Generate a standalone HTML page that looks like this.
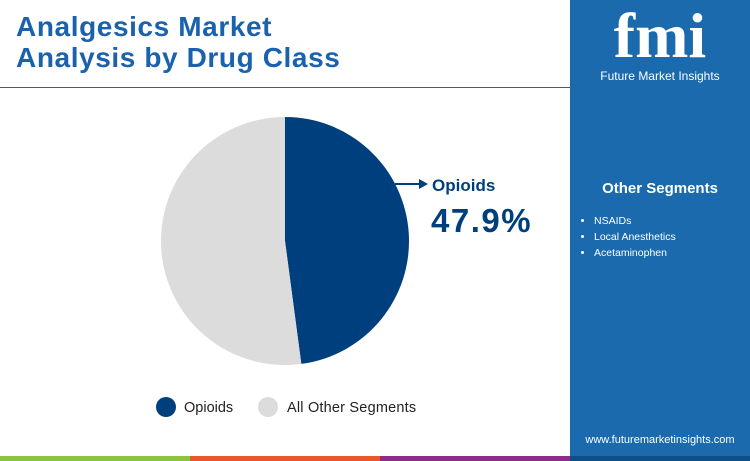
<!DOCTYPE html>
<html><head><meta charset="utf-8"><style>
body{margin:0;width:750px;height:461px;overflow:hidden;background:#fff;font-family:"Liberation Sans",sans-serif;position:relative}
.abs{position:absolute}
</style></head><body>
<div class="abs" style="left:16px;top:11px;font-size:28px;letter-spacing:0.6px;font-weight:bold;color:#1a62ad;line-height:31px">Analgesics Market<br>Analysis by Drug Class</div>
<div class="abs" style="left:0;top:87px;width:570px;height:1px;background:#1a66b0"></div>
<div class="abs" style="left:570px;top:0;width:180px;height:456px;background:#1a6aad"></div>
<div class="abs" style="left:570px;top:4px;width:180px;text-align:center;color:#fff;font-size:64px;font-weight:bold;font-family:'Liberation Serif',serif;line-height:64px">fmi</div>
<div class="abs" style="left:570px;top:69px;width:180px;text-align:center;color:#fff;font-size:12px">Future Market Insights</div>
<div class="abs" style="left:570px;top:180px;width:180px;text-align:center;color:#fff;font-size:15px;font-weight:bold">Other Segments</div>
<ul class="abs" style="left:580px;top:213px;margin:0;padding:0 0 0 14px;color:#fff;font-size:10.5px;line-height:16px">
<li>NSAIDs</li>
<li>Local Anesthetics</li>
<li>Acetaminophen</li></ul>
<div class="abs" style="left:570px;top:434px;width:180px;text-align:center;color:#fff;font-size:11px">www.futuremarketinsights.com</div>
<div class="abs" style="left:0;top:456px;width:190px;height:5px;background:#8cc43f"></div>
<div class="abs" style="left:190px;top:456px;width:190px;height:5px;background:#e8582a"></div>
<div class="abs" style="left:380px;top:456px;width:190px;height:5px;background:#8e2c8a"></div>
<div class="abs" style="left:570px;top:456px;width:180px;height:5px;background:#0f4f88"></div>
<svg class="abs" style="left:0;top:0" width="570" height="456">
<g id="pie"></g>
<line x1="395" y1="184" x2="420" y2="184" stroke="#003f7d" stroke-width="2"/>
<polygon points="419,179 428,184 419,189" fill="#003f7d"/>
<text x="432" y="191" font-size="17" font-weight="bold" fill="#003f7d">Opioids</text>
<text id="pct" x="431" y="232" font-size="33" font-weight="bold" letter-spacing="1.5" fill="#003f7d"></text>
<circle cx="166" cy="407" r="10" fill="#003f7d"/>
<text x="184" y="412" font-size="14.5" fill="#222">Opioids</text>
<circle cx="268" cy="407" r="10" fill="#dcdcdc"/>
<text x="287" y="412" font-size="14.5" letter-spacing="0.2" fill="#222">All Other Segments</text>
</svg>
<script>
const categories=["Opioids","All Other Segments"];
const values=[47.9,52.1];
const colors=["#003f7d","#dcdcdc"];
const cx=285,cy=241,r=124;
const g=document.getElementById('pie');
const total=values.reduce((a,b)=>a+b,0);
let a0=-Math.PI/2;
values.forEach((v,i)=>{
  const a1=a0+v/total*2*Math.PI;
  const large=(a1-a0)>Math.PI?1:0;
  const p=document.createElementNS('http://www.w3.org/2000/svg','path');
  p.setAttribute('d',`M${cx},${cy} L${cx+r*Math.cos(a0)},${cy+r*Math.sin(a0)} A${r},${r} 0 ${large} 1 ${cx+r*Math.cos(a1)},${cy+r*Math.sin(a1)} Z`);
  p.setAttribute('fill',colors[i]);
  
  
  g.appendChild(p);
  a0=a1;
});
document.getElementById('pct').textContent=values[0].toFixed(1)+'%';
</script>
</body></html>
